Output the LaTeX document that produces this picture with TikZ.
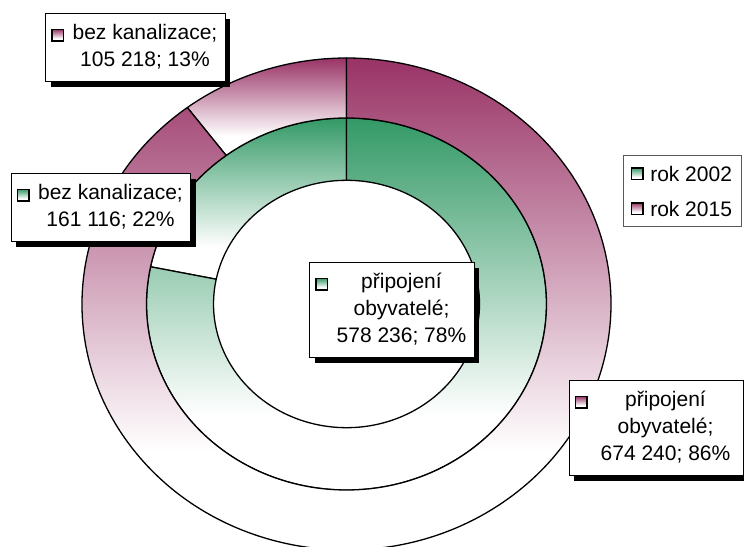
\documentclass[tikz,border=0pt]{standalone}
\usepackage{fontspec}
\setmainfont{Liberation Sans}
\usetikzlibrary{positioning,shadows}
\definecolor{plum}{HTML}{993366}
\definecolor{seagreen}{HTML}{339966}
\pgfdeclareverticalshading{plumfade}{100bp}{color(0bp)=(white); color(35bp)=(white); color(75bp)=(plum); color(100bp)=(plum)}
\pgfdeclareverticalshading{greenfade}{100bp}{color(0bp)=(white); color(35bp)=(white); color(75bp)=(seagreen); color(100bp)=(seagreen)}
\tikzset{
  slice/.style={
    draw=black,
    line width=1.3pt,
    line join=round
  },
  datalabel/.style={
    draw=black,
    line width=0.8pt,
    fill=white,
    inner xsep=8pt,
    inner ysep=7pt,
    font=\fontsize{21}{27}\selectfont,
    drop shadow={shadow xshift=5pt, shadow yshift=-6pt, fill=black, opacity=1}
  },
  keysq/.style={draw=black, line width=1.4pt, minimum size=11.5pt, inner sep=0pt, shade},
  legendbox/.style={draw=gray!70!black, line width=0.8pt, minimum width=118pt, minimum height=71pt, inner sep=0pt},
  legendtext/.style={inner sep=0pt, font=\fontsize{21}{27}\selectfont}
}
% shading, inner radius, outer radius, start, end, top y, bottom y of the slice
\newcommand{\donutslice}[7]{%
  \begin{scope}
    \clip (#4:#3) arc[start angle=#4, end angle=#5, radius=#3] -- (#5:#2) arc[start angle=#5, end angle=#4, radius=#2] -- cycle;
    \shade[shading=#1] (-#3,#7) rectangle (#3,#6);
  \end{scope}
  \draw[slice] (#4:#3) arc[start angle=#4, end angle=#5, radius=#3] -- (#5:#2) arc[start angle=#5, end angle=#4, radius=#2] -- cycle;}
\newcommand{\lbltext}[1]{\hspace*{19pt}\begin{tabular}[t]{@{}c@{}}#1\end{tabular}}

\begin{document}
\begin{tikzpicture}[x=1pt, y=1pt]
  \useasboundingbox (0,0) rectangle (744,546);
  \clip (0,0) rectangle (744,546);
  \begin{scope}[shift={(346.5,242)}, yscale=0.93]
    \donutslice{greenfade}{133}{200}{90}{168.45}{200}{26.6}
    \donutslice{greenfade}{133}{200}{168.45}{450}{200}{-200}
    \donutslice{plumfade}{200}{264.5}{90}{127}{264.5}{159.7}
    \donutslice{plumfade}{200}{264.5}{127}{450}{264.5}{-264.5}
  \end{scope}

  \node[datalabel] (lbl15a) at (135.5,498.5) {\lbltext{bez kanalizace;\\105 218; 13\%}};
  \node[keysq, shading=plumfade] (key15a) at ([xshift=12.5pt, yshift=-22pt]lbl15a.north west) {};
  \node[datalabel] (lbl02a) at (101,338.5) {\lbltext{bez kanalizace;\\161 116; 22\%}};
  \node[keysq, shading=greenfade] (key02a) at ([xshift=12.5pt, yshift=-22pt]lbl02a.north west) {};
  \node[datalabel] (lbl02b) at (392,236) {\lbltext{připojení\\obyvatelé;\\578 236; 78\%}};
  \node[keysq, shading=greenfade] (key02b) at ([xshift=12.5pt, yshift=-22pt]lbl02b.north west) {};
  \node[datalabel, minimum width=174pt] (lbl15b) at (656,118) {\lbltext{připojení\\obyvatelé;\\674 240; 86\%}};
  \node[keysq, shading=plumfade] (key15b) at ([xshift=12.5pt, yshift=-22pt]lbl15b.north west) {};

  \node[legendbox] (legend) at (682,355.5) {};
  \node[keysq, shading=greenfade] (key02) at ([xshift=14.5pt, yshift=-19pt]legend.north west) {};
  \node[keysq, shading=plumfade] (key15) at ([yshift=-35pt]key02) {};
  \node[legendtext, right=6.5pt of key02] (txt02) {rok 2002};
  \node[legendtext, right=6.5pt of key15] (txt15) {rok 2015};
\end{tikzpicture}
\end{document}
